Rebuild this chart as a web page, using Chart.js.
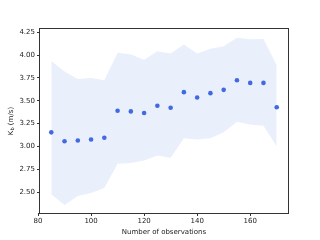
<!DOCTYPE html>
<html>
<head>
<meta charset="utf-8">
<script src="https://cdn.jsdelivr.net/npm/chart.js@4/dist/chart.umd.min.js"></script>
<style>
  html, body { margin: 0; padding: 0; background: #fff; }
  #wrap { width: 320px; height: 240px; position: relative; }
</style>
</head>
<body>
<div id="wrap"><canvas id="chart" width="320" height="240"></canvas></div>
<script>
const observations = [85, 90, 95, 100, 105, 110, 115, 120, 125, 130, 135, 140, 145, 150, 155, 160, 165, 170];
const kbMean = [3.155, 3.058, 3.065, 3.076, 3.095, 3.391, 3.384, 3.366, 3.446, 3.424, 3.595, 3.536, 3.584, 3.62, 3.725, 3.696, 3.696, 3.43];
const kbUpper = [3.935, 3.82, 3.74, 3.75, 3.725, 4.025, 4.007, 3.95, 4.043, 4.018, 4.116, 4.018, 4.07, 4.098, 4.19, 4.174, 4.177, 3.888];
const kbLower = [2.478, 2.359, 2.457, 2.49, 2.547, 2.812, 2.82, 2.848, 2.902, 2.877, 3.09, 3.076, 3.09, 3.155, 3.27, 3.24, 3.228, 3.003];
const xTicks = [80, 100, 120, 140, 160];
const yTicks = [2.5, 2.75, 3.0, 3.25, 3.5, 3.75, 4.0, 4.25];

const blue = '#4169e1';
const band = 'rgba(65,105,225,0.11)';
const font = { family: 'DejaVu Sans', size: 7 };

const toXY = ys => observations.map((x, i) => ({ x, y: ys[i] }));

// full box round the plot area, plus the y label with its subscript
const framePlugin = {
  id: 'frame',
  afterDraw(chart) {
    const { ctx, chartArea: a } = chart;
    ctx.save();
    ctx.strokeStyle = '#333';
    ctx.lineWidth = 1;
    ctx.strokeRect(a.left - 0.5, a.top - 0.5, a.right - a.left + 1, a.bottom - a.top + 1);

    ctx.translate(11, (a.top + a.bottom) / 2);
    ctx.rotate(-Math.PI / 2);
    ctx.fillStyle = '#222';
    ctx.textBaseline = 'middle';
    ctx.font = '7px "DejaVu Sans"';
    const k = 'K', rest = ' (m/s)';
    ctx.font = '5px "DejaVu Sans"';
    const wb = ctx.measureText('b').width;
    ctx.font = '7px "DejaVu Sans"';
    const wk = ctx.measureText(k).width, wr = ctx.measureText(rest).width;
    let x = -(wk + wb + wr) / 2;
    ctx.textAlign = 'left';
    ctx.fillText(k, x, 0);
    x += wk;
    ctx.font = '5px "DejaVu Sans"';
    ctx.fillText('b', x, 2);
    x += wb;
    ctx.font = '7px "DejaVu Sans"';
    ctx.fillText(rest, x, 0);
    ctx.restore();
  }
};

new Chart(document.getElementById('chart'), {
  type: 'scatter',
  data: {
    datasets: [
      {
        data: toXY(kbUpper),
        showLine: true,
        borderWidth: 0,
        borderColor: 'rgba(0,0,0,0)',
        pointRadius: 0,
        backgroundColor: band,
        fill: '+1',
        order: 2
      },
      {
        data: toXY(kbLower),
        showLine: true,
        borderWidth: 0,
        borderColor: 'rgba(0,0,0,0)',
        pointRadius: 0,
        backgroundColor: band,
        fill: false,
        order: 2
      },
      {
        data: toXY(kbMean),
        pointRadius: 2.3,
        pointBackgroundColor: blue,
        pointBorderWidth: 0,
        order: 1
      }
    ]
  },
  options: {
    responsive: false,
    animation: false,
    layout: { padding: { top: 29, right: 32, left: 0, bottom: 0 } },
    plugins: { legend: { display: false }, tooltip: { enabled: false } },
    scales: {
      x: {
        type: 'linear',
        min: 80.75,
        max: 174.25,
        afterBuildTicks: s => { s.ticks = xTicks.map(v => ({ value: v })); },
        afterFit: s => { s.height = 27; },
        border: { display: false },
        grid: { drawOnChartArea: false, tickLength: 3, color: '#333' },
        ticks: { font, color: '#222', padding: 1, callback: v => String(v) },
        title: { display: true, text: 'Number of observations', font, color: '#222', padding: { top: 1 } }
      },
      y: {
        min: 2.272,
        max: 4.286,
        afterBuildTicks: s => { s.ticks = yTicks.map(v => ({ value: v })); },
        afterFit: s => { s.width = 40; },
        border: { display: false },
        grid: { drawOnChartArea: false, tickLength: 3, color: '#333' },
        ticks: { font, color: '#222', padding: 2, callback: v => v.toFixed(2) }
      }
    }
  },
  plugins: [framePlugin]
});
</script>
</body>
</html>
